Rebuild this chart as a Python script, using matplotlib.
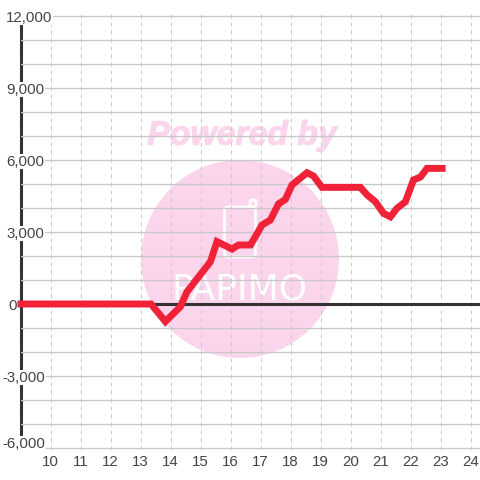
import matplotlib
matplotlib.use("Agg")
import matplotlib.pyplot as plt
import matplotlib.patheffects as pe
from matplotlib.patches import Circle, FancyBboxPatch

plt.rcParams['font.family'] = ['Liberation Sans', 'DejaVu Sans']

hours = [8.9, 13.35, 13.83, 14.33, 14.55, 15.33, 15.55, 16.05, 16.27, 16.55, 16.67,
         17.05, 17.33, 17.6, 17.83, 18.05, 18.55, 18.77, 19.05, 20.33, 20.55, 20.83,
         21.1, 21.33, 21.55, 21.83, 22.1, 22.33, 22.55, 23.17]
values = [0, 0, -730, -110, 510, 1760, 2600, 2290, 2460, 2460, 2460,
          3290, 3500, 4170, 4360, 4960, 5470, 5330, 4860, 4860, 4550, 4260,
          3780, 3630, 3990, 4260, 5170, 5290, 5650, 5650]
x_ticks = list(range(10, 25))
y_major = [-6000, -3000, 0, 3000, 6000, 9000, 12000]
y_labels = ['-6,000', '-3,000', '0', '3,000', '6,000', '9,000', '12,000']
y_grid = list(range(-6000, 13000, 1000))

W = 480.0
fig = plt.figure(figsize=(4.8, 4.8), dpi=100, facecolor='white')

def fx(p): return p / W
def fy(p): return 1 - p / W

L, R, T, B = 20.5, 480.0, 14.0, 450.0
ax = fig.add_axes([fx(L), fy(B), (R - L) / W, (B - T) / W], zorder=5)
ax.patch.set_visible(False)
ax.set_xlim(9, 9 + (R - L) / 30)
ax.set_ylim((304 - B) / 24 * 1000, (304 - T) / 24 * 1000)
ax.set_axisbelow(False)

# watermark
pink = '#fbd5ec'
fig.patches.append(Circle((fx(240), fy(259)), 99 / W, transform=fig.transFigure,
                          facecolor=pink, edgecolor='none', figure=fig, zorder=0))
fig.patches.append(FancyBboxPatch((fx(224.5), fy(257)), 31 / W, 50 / W,
                                  boxstyle='round,pad=0,rounding_size=0.008',
                                  transform=fig.transFigure, facecolor='none',
                                  edgecolor='white', linewidth=2, figure=fig, zorder=1))
fig.patches.append(FancyBboxPatch((fx(250), fy(207)), 6 / W, 7 / W,
                                  boxstyle='round,pad=0,rounding_size=0.005',
                                  transform=fig.transFigure, facecolor=pink,
                                  edgecolor='white', linewidth=2, figure=fig, zorder=1))
fig.text(fx(242), fy(136), 'Powered by', color=pink, fontsize=24.3, fontweight='bold',
         fontstyle='italic', ha='center', va='center', zorder=1,
         path_effects=[pe.withStroke(linewidth=0.8, foreground=pink)])
fig.text(fx(240), fy(290), 'PAPIMO', color='white', fontsize=26, ha='center', va='center',
         family='DejaVu Sans', zorder=1)

# grid
grid_c = '#c8c8c8'
ax.set_yticks(y_major, y_labels)
ax.set_yticks([v for v in y_grid if v not in y_major], minor=True)
ax.set_xticks(x_ticks, [str(v) for v in x_ticks])
ax.grid(True, axis='y', which='both', color=grid_c, linewidth=0.95)
ax.grid(True, axis='x', color=grid_c, linewidth=0.72, linestyle=(0, (4, 4)))
ax.tick_params(axis='both', which='both', length=0)
ax.tick_params(axis='x', labelsize=10.8, labelcolor='#444444', pad=3.6)
ax.tick_params(axis='y', labelsize=10.8, labelcolor='#444444', pad=0)

label_left = {'12,000': 6, '9,000': 6, '6,000': 6, '3,000': 6, '0': 8, '-3,000': 2, '-6,000': 2}
for lab in ax.get_yticklabels():
    lab.set_ha('left')
    lab.set_x((label_left[lab.get_text()] - L) / (R - L))
    lab.set_bbox(dict(facecolor='white', edgecolor='none', pad=0.5))
    if lab.get_text() == '-6,000':
        lab.set_va('baseline')

for s in ['top', 'right', 'bottom']:
    ax.spines[s].set_visible(False)
ax.spines['left'].set_linewidth(2.2)
ax.spines['left'].set_color('#333333')
ax.spines['left'].set_bounds(-6000, 12000)

ax.axhline(0, color='#333333', linewidth=2.2, zorder=2.6)
ax.plot(hours, values, color='#f02238', linewidth=5, solid_capstyle='butt',
        solid_joinstyle='miter', clip_on=False, zorder=4)

fig.savefig('out.png', dpi=100, facecolor='white')
